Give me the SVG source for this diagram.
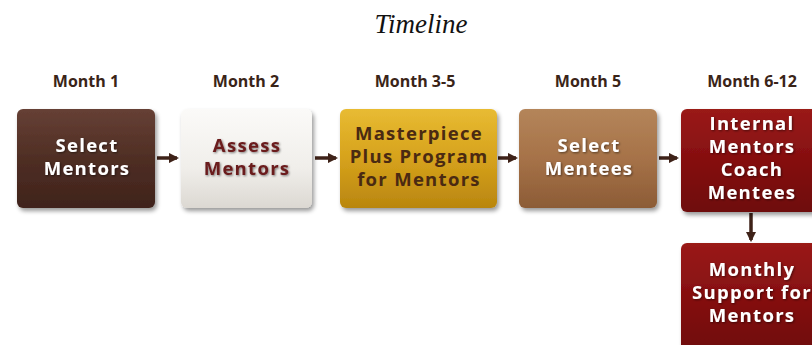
<svg xmlns="http://www.w3.org/2000/svg" width="812" height="345" viewBox="0 0 812 345">
<defs>
<style>
.title{font-family:"Liberation Serif",serif;font-style:italic;font-size:27px;fill:#111}
.month{font-family:"Open Sans","Noto Sans",sans-serif;font-weight:bold;font-size:16px;fill:#3a2418;text-anchor:middle}
.lbl{font-family:"Open Sans","Noto Sans",sans-serif;font-weight:bold;font-size:18.5px;letter-spacing:1.3px;text-anchor:middle}
.w{fill:#ffffff}
.dk{fill:#6a1a1c}
.gd{fill:#4a2a12}
.con{stroke:#3e2218;stroke-width:3.5;fill:none;marker-end:url(#ah)}
</style>
<marker id="ah" viewBox="0 0 10 10" refX="8" refY="5" markerWidth="3" markerHeight="3" orient="auto">
<path d="M0,0 L10,5 L0,10 z" fill="#3e2218"/>
</marker>
<filter id="sh" x="-10%" y="-10%" width="125%" height="130%">
<feDropShadow dx="2" dy="3" stdDeviation="2.2" flood-color="#000" flood-opacity="0.4"/>
</filter>
<filter id="ts" x="-10%" y="-10%" width="120%" height="130%">
<feDropShadow dx="1" dy="1" stdDeviation="0.8" flood-color="#000" flood-opacity="0.5"/>
</filter>
<linearGradient id="g1" x1="0" y1="0" x2="0" y2="1"><stop offset="0" stop-color="#664035"/><stop offset="0.5" stop-color="#4f2e24"/><stop offset="1" stop-color="#3f231b"/></linearGradient>
<linearGradient id="g2" x1="0" y1="0" x2="0" y2="1"><stop offset="0" stop-color="#fbfaf8"/><stop offset="0.6" stop-color="#f0eeea"/><stop offset="1" stop-color="#dcd8d2"/></linearGradient>
<linearGradient id="g3" x1="0" y1="0" x2="0" y2="1"><stop offset="0" stop-color="#e8bb33"/><stop offset="0.5" stop-color="#d6a21c"/><stop offset="1" stop-color="#b9860f"/></linearGradient>
<linearGradient id="g4" x1="0" y1="0" x2="0" y2="1"><stop offset="0" stop-color="#b4855a"/><stop offset="0.5" stop-color="#a67248"/><stop offset="1" stop-color="#8c5c36"/></linearGradient>
<linearGradient id="g5" x1="0" y1="0" x2="0" y2="1"><stop offset="0" stop-color="#9a1a18"/><stop offset="0.5" stop-color="#850f10"/><stop offset="1" stop-color="#6e0a0c"/></linearGradient>
</defs>
<rect width="812" height="345" fill="#ffffff"/>
<text class="title" x="421" y="33" text-anchor="middle">Timeline</text>
<g id="months">
<text class="month" x="86" y="87">Month 1</text>
<text class="month" x="246" y="87">Month 2</text>
<text class="month" x="415" y="87">Month 3-5</text>
<text class="month" x="588" y="87">Month 5</text>
<text class="month" x="752" y="87">Month 6-12</text>
</g>
<g id="connectors">
<line class="con" x1="157" y1="158" x2="177" y2="158"/>
<line class="con" x1="315" y1="158" x2="336" y2="158"/>
<line class="con" x1="498" y1="158" x2="516" y2="158"/>
<line class="con" x1="659" y1="158" x2="677" y2="158"/>
<line class="con" x1="751" y1="213" x2="751" y2="240"/>
</g>
<g id="n1">
<rect x="17" y="109" width="138" height="99" rx="6" fill="url(#g1)" filter="url(#sh)"/>
<text class="lbl w" filter="url(#ts)"><tspan x="87" y="152">Select</tspan><tspan x="87" y="175">Mentors</tspan></text>
</g>
<g id="n2">
<rect x="181" y="109" width="131" height="99" rx="6" fill="url(#g2)" filter="url(#sh)"/>
<text class="lbl dk" filter="url(#ts)"><tspan x="247" y="152">Assess</tspan><tspan x="247" y="175">Mentors</tspan></text>
</g>
<g id="n3">
<rect x="340" y="109" width="157" height="99" rx="6" fill="url(#g3)" filter="url(#sh)"/>
<text class="lbl gd"><tspan x="419" y="140">Masterpiece</tspan><tspan x="419" y="163">Plus Program</tspan><tspan x="419" y="186">for Mentors</tspan></text>
</g>
<g id="n4">
<rect x="519" y="109" width="138" height="99" rx="6" fill="url(#g4)" filter="url(#sh)"/>
<text class="lbl w" filter="url(#ts)"><tspan x="589" y="152">Select</tspan><tspan x="589" y="175">Mentees</tspan></text>
</g>
<g id="n5">
<rect x="681" y="109" width="140" height="103" rx="6" fill="url(#g5)" filter="url(#sh)"/>
<text class="lbl w" filter="url(#ts)"><tspan x="752" y="130">Internal</tspan><tspan x="752" y="153">Mentors</tspan><tspan x="752" y="176">Coach</tspan><tspan x="752" y="199">Mentees</tspan></text>
</g>
<g id="n6">
<rect x="681" y="243" width="140" height="110" rx="6" fill="url(#g5)" filter="url(#sh)"/>
<text class="lbl w" filter="url(#ts)"><tspan x="752" y="276">Monthly</tspan><tspan x="752" y="299">Support for</tspan><tspan x="752" y="322">Mentors</tspan></text>
</g>
</svg>
